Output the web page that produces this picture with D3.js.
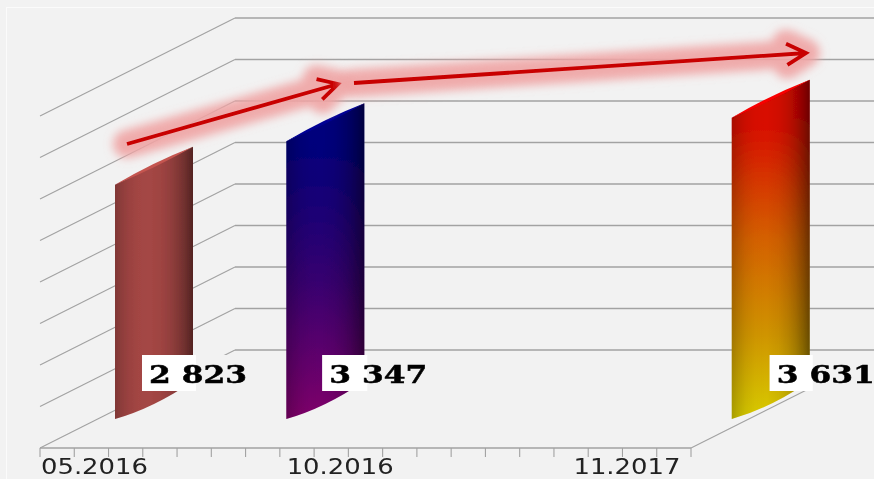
<!DOCTYPE html>
<html><head><meta charset="utf-8">
<script src="https://cdn.jsdelivr.net/npm/d3@7/dist/d3.min.js"></script>
<style>html,body{margin:0;padding:0;background:#f2f2f2;overflow:hidden}svg{display:block}</style>
</head><body><svg id="c" width="874" height="479"></svg>
<script>
const categories = ["05.2016","10.2016","11.2017"];
const values = [2823,3347,3631];
const slotIndex = [0,5,18];
const valueLabels = ["2 823","3 347","3 631"];
const tickLabels = ["05.2016","10.2016","11.2017"];
const tickLabelSlots = [1.59,8.76,17.13];
const yTicks = d3.range(0,4001,500);
const slotCount = 19;

const W=874,H=479;
const svg=d3.select("#c");
const defs=svg.append("defs");
defs.append("filter").attr("id","soft").attr("filterUnits","userSpaceOnUse").attr("x",0).attr("y",0).attr("width",W).attr("height",H)
  .append("feGaussianBlur").attr("stdDeviation",0.6);
const x=d3.scaleLinear().domain([0,slotCount]).range([40,691]);
const y=d3.scaleLinear().domain([0,4000]).range([0,332]);
const floorY=448, dx=195, dy=-98;
svg.append("rect").attr("width",W).attr("height",H).attr("fill","#f2f2f2");
const root=svg.append("g").attr("filter","url(#soft)");
root.append("rect").attr("x",6.5).attr("y",7.5).attr("width",W).attr("height",H).attr("fill","none").attr("stroke","#fbfbfb");

const grid=root.append("g").attr("fill","none").attr("stroke","#a2a2a2").attr("stroke-width",1.1);
yTicks.forEach(t=>{
  const f=floorY-y(t);
  grid.append("path").attr("d",d3.line()([[x(0),f],[x(0)+dx,f+dy]]));
  grid.append("path").attr("stroke-width",1.5).attr("d",d3.line()([[x(0)+dx,f+dy],[W,f+dy]]));
});
grid.append("path").attr("stroke-width",1.4).attr("d",d3.line()([[x(0),floorY],[x(slotCount),floorY]]));
grid.append("path").attr("d",d3.line()([[x(slotCount),floorY],[x(slotCount)+dx*0.605,floorY+dy*0.605]]));
d3.range(0,slotCount+1).forEach(i=>{
  grid.append("line").attr("x1",x(i)).attr("x2",x(i)).attr("y1",floorY).attr("y2",floorY+9);
});
root.append("g").selectAll("text").data(tickLabels).join("text")
  .attr("x",(d,i)=>x(tickLabelSlots[i])).attr("y",474)
  .attr("text-anchor","middle").attr("font-family","'DejaVu Sans',sans-serif")
  .attr("font-size",21).attr("fill","#222").attr("textLength",107).attr("lengthAdjust","spacingAndGlyphs").text(d=>d);

const shade=[["0","0.22"],["0.08","0.14"],["0.18","0.06"],["0.3","0.01"],["0.45","0"],["0.6","0.04"],["0.72","0.12"],["0.82","0.22"],["0.92","0.36"],["1","0.5"]];
const fills=[
  {v:[["0","#a44644"],["1","#a44644"]],top:"#c4544f"},
  {v:[["0","#00007c"],["0.5","#36006f"],["1","#80006a"]],top:"#000094"},
  {v:[["0","#d80800"],["0.4","#d46000"],["0.72","#cf9400"],["1","#d8cc00"]],top:"#f80000"}
];
const hg=defs.append("linearGradient").attr("id","shade");
shade.forEach(st=>hg.append("stop").attr("offset",st[0]).attr("stop-color","#000").attr("stop-opacity",st[1]));
const barX=75, barW=78, base=419, rise=38;
const boxLeft=[27,36,38], boxRight=[133,142,142];
values.forEach((v,i)=>{
  const bx=x(slotIndex[i])+barX, bh=y(v), s=fills[i];
  const tx=bx+barW, ty=base-rise-bh, mx=bx+barW*0.5, my=base-bh-rise/2;
  const shape=`M${bx},${base}Q${mx},${base-11} ${tx},${base-rise}V${ty}L${bx},${base-bh}Z`;
  const vg=defs.append("linearGradient").attr("id","v"+i).attr("gradientUnits","userSpaceOnUse").attr("x1",0).attr("x2",0).attr("y1",base-bh).attr("y2",base);
  s.v.forEach(st=>vg.append("stop").attr("offset",st[0]).attr("stop-color",st[1]));
  root.append("path").attr("d",shape).attr("fill",`url(#v${i})`);
  root.append("path").attr("d",shape).attr("fill","url(#shade)");
  root.append("path").attr("d",`M${bx},${base-bh}Q${mx},${my-4} ${tx},${ty}Q${mx},${my+3} ${bx},${base-bh}Z`).attr("fill",s.top);
  const lx=bx+boxLeft[i];
  const bw=Math.min(bx+boxRight[i],W)-lx;
  root.append("rect").attr("x",lx).attr("y",355).attr("width",bw).attr("height",36).attr("fill","#f2f2f2");
  root.append("rect").attr("x",lx).attr("y",355).attr("width",Math.max(0,tx-lx)+3).attr("height",36).attr("fill","#fff");
  root.append("text").attr("x",lx+7).attr("y",383).attr("font-family","'DejaVu Serif',serif").attr("font-weight","bold")
    .attr("font-size",25).attr("fill","#000").attr("stroke","#000").attr("stroke-width",0.5)
    .attr("textLength",98).attr("lengthAdjust","spacingAndGlyphs").text(valueLabels[i]);
});

const f=defs.append("filter").attr("id","glow").attr("filterUnits","userSpaceOnUse").attr("x",0).attr("y",0).attr("width",W).attr("height",H);
f.append("feGaussianBlur").attr("stdDeviation",5);
const arrowPts=[[[127,144],[338,84]],[[354,83],[806,53]]];
arrowPts.forEach(p=>{
  const [a,b]=p, ang=Math.atan2(b[1]-a[1],b[0]-a[0]), L=22, th=0.5;
  const head=[[b[0]-L*Math.cos(ang-th),b[1]-L*Math.sin(ang-th)],b,[b[0]-L*Math.cos(ang+th),b[1]-L*Math.sin(ang+th)]];
  const d=d3.line()([a,b])+d3.line()(head);
  root.append("path").attr("d",d).attr("fill","none").attr("stroke","#f0a4a4").attr("stroke-opacity",0.9).attr("stroke-width",28).attr("stroke-linecap","round").attr("stroke-linejoin","round").attr("filter","url(#glow)");
  root.append("path").attr("d",d).attr("fill","none").attr("stroke","#c80000").attr("stroke-width",3.8).attr("stroke-linecap","butt").attr("stroke-linejoin","miter");
});
</script></body></html>
